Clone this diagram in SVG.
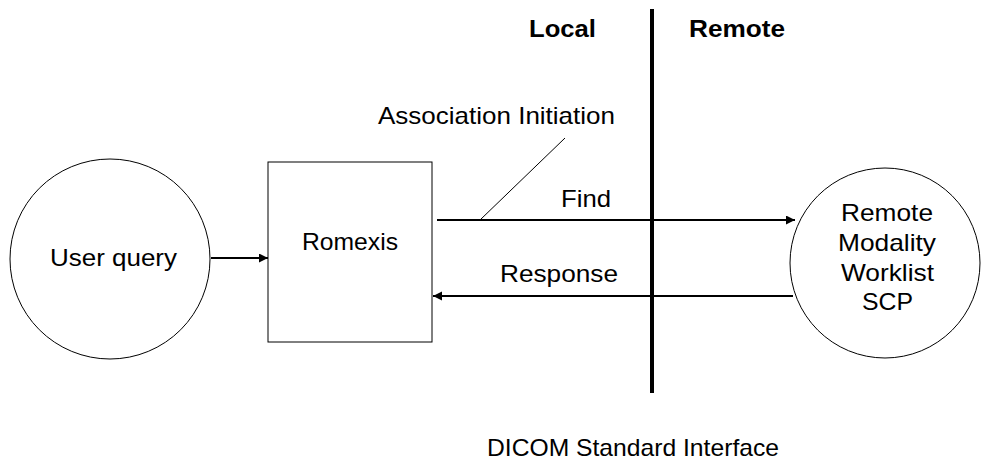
<svg xmlns="http://www.w3.org/2000/svg" width="982" height="464" viewBox="0 0 982 464">
<style>
text{font-family:"Liberation Sans",Arial,sans-serif;font-size:24px;fill:#000}
.b{font-weight:bold}
.shape{fill:#fff;stroke:#000;stroke-width:1}
.conn{stroke:#000;stroke-width:2;fill:none}
.thin{stroke:#000;stroke-width:1;fill:none}
</style>
<defs>
<marker id="ah" markerUnits="userSpaceOnUse" markerWidth="10" markerHeight="10" refX="9" refY="4.5" orient="auto">
<path d="M0,0 L9,4.5 L0,9 Z" fill="#000"/>
</marker>
</defs>
<rect width="982" height="464" fill="#fff"/>
<g id="divider">
<line x1="652" y1="9" x2="652" y2="393" stroke="#000" stroke-width="4"/>
<text class="b" x="529" y="37" textLength="67" lengthAdjust="spacingAndGlyphs">Local</text>
<text class="b" x="689" y="37" textLength="96" lengthAdjust="spacingAndGlyphs">Remote</text>
</g>
<g id="user-query">
<circle class="shape" cx="110" cy="259" r="100"/>
<text x="50" y="266" textLength="127" lengthAdjust="spacingAndGlyphs">User query</text>
</g>
<g id="romexis">
<rect class="shape" x="268" y="162" width="164" height="180"/>
<text x="302" y="250" textLength="96" lengthAdjust="spacingAndGlyphs">Romexis</text>
</g>
<g id="remote-scp">
<circle class="shape" cx="885" cy="263" r="95"/>
<text x="841" y="221" textLength="92" lengthAdjust="spacingAndGlyphs">Remote</text>
<text x="838" y="251" textLength="98" lengthAdjust="spacingAndGlyphs">Modality</text>
<text x="841" y="281" textLength="93" lengthAdjust="spacingAndGlyphs">Worklist</text>
<text x="862" y="310" textLength="51" lengthAdjust="spacingAndGlyphs">SCP</text>
</g>
<g id="connectors">
<line class="conn" x1="211" y1="258" x2="268" y2="258" marker-end="url(#ah)"/>
<line class="conn" x1="437" y1="220" x2="795" y2="220" marker-end="url(#ah)"/>
<line class="conn" x1="793" y1="296" x2="433" y2="296" marker-end="url(#ah)"/>
<line class="thin" x1="480" y1="220" x2="565" y2="138"/>
<text x="561" y="207" textLength="50" lengthAdjust="spacingAndGlyphs">Find</text>
<text x="500" y="282" textLength="118" lengthAdjust="spacingAndGlyphs">Response</text>
<text x="378" y="124" textLength="237" lengthAdjust="spacingAndGlyphs">Association Initiation</text>
</g>
<g id="caption">
<text x="487" y="456" textLength="292" lengthAdjust="spacingAndGlyphs">DICOM Standard Interface</text>
</g>
</svg>
